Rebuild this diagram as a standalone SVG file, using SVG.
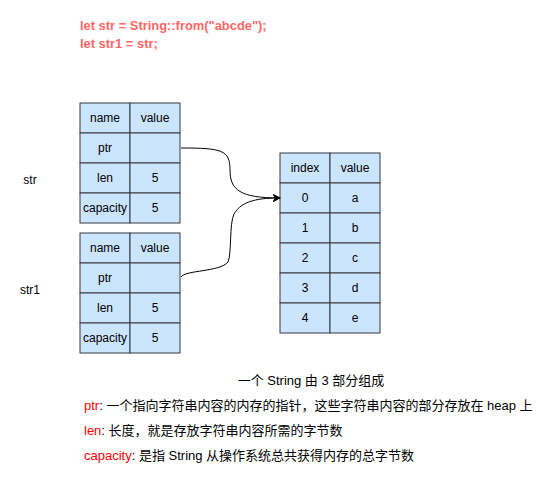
<svg xmlns="http://www.w3.org/2000/svg" width="551" height="498" viewBox="0 0 551 498">
<defs>
<style>
.c{fill:#cce5ff;stroke:#36393d;stroke-width:1}
.t{font-family:"Liberation Sans","Noto Sans CJK SC",sans-serif;font-size:12px;fill:#000;text-anchor:middle;dominant-baseline:central}
.code{font-family:"Liberation Sans",sans-serif;font-size:12.9px;font-weight:bold;fill:#ff6666}
.d{font-family:"Liberation Sans","Noto Sans CJK SC",sans-serif;font-size:13px;fill:#000}
.r{fill:#ff0000}
.e{fill:none;stroke:#000;stroke-width:1}
</style>
<marker id="ah" viewBox="0 0 10 10" refX="9" refY="5" markerWidth="8" markerHeight="8" markerUnits="userSpaceOnUse" orient="auto">
<path d="M0,0 L10,5 L0,10 L2.5,5 Z" fill="#000"/>
</marker>
</defs>
<rect width="551" height="498" fill="#fff"/>
<g id="code">
<text class="code" x="80" y="30">let str = String::from("abcde");</text>
<text class="code" x="80" y="48">let str1 = str;</text>
</g>
<g id="label-str"><text class="t" x="30" y="180">str</text></g>
<g id="label-str1"><text class="t" x="30" y="290">str1</text></g>
<g id="table-str">
<rect class="c" x="80" y="103" width="50" height="30"/><rect class="c" x="130" y="103" width="50" height="30"/>
<rect class="c" x="80" y="133" width="50" height="30"/><rect class="c" x="130" y="133" width="50" height="30"/>
<rect class="c" x="80" y="163" width="50" height="30"/><rect class="c" x="130" y="163" width="50" height="30"/>
<rect class="c" x="80" y="193" width="50" height="30"/><rect class="c" x="130" y="193" width="50" height="30"/>
<text class="t" x="105" y="118">name</text><text class="t" x="155" y="118">value</text>
<text class="t" x="105" y="148">ptr</text>
<text class="t" x="105" y="178">len</text><text class="t" x="155" y="178">5</text>
<text class="t" x="105" y="208">capacity</text><text class="t" x="155" y="208">5</text>
</g>
<g id="table-str1">
<rect class="c" x="80" y="233" width="50" height="30"/><rect class="c" x="130" y="233" width="50" height="30"/>
<rect class="c" x="80" y="263" width="50" height="30"/><rect class="c" x="130" y="263" width="50" height="30"/>
<rect class="c" x="80" y="293" width="50" height="30"/><rect class="c" x="130" y="293" width="50" height="30"/>
<rect class="c" x="80" y="323" width="50" height="30"/><rect class="c" x="130" y="323" width="50" height="30"/>
<text class="t" x="105" y="248">name</text><text class="t" x="155" y="248">value</text>
<text class="t" x="105" y="278">ptr</text>
<text class="t" x="105" y="308">len</text><text class="t" x="155" y="308">5</text>
<text class="t" x="105" y="338">capacity</text><text class="t" x="155" y="338">5</text>
</g>
<g id="table-heap">
<rect class="c" x="280" y="153" width="50" height="30"/><rect class="c" x="330" y="153" width="50" height="30"/>
<rect class="c" x="280" y="183" width="50" height="30"/><rect class="c" x="330" y="183" width="50" height="30"/>
<rect class="c" x="280" y="213" width="50" height="30"/><rect class="c" x="330" y="213" width="50" height="30"/>
<rect class="c" x="280" y="243" width="50" height="30"/><rect class="c" x="330" y="243" width="50" height="30"/>
<rect class="c" x="280" y="273" width="50" height="30"/><rect class="c" x="330" y="273" width="50" height="30"/>
<rect class="c" x="280" y="303" width="50" height="30"/><rect class="c" x="330" y="303" width="50" height="30"/>
<text class="t" x="305" y="168">index</text><text class="t" x="355" y="168">value</text>
<text class="t" x="305" y="198">0</text><text class="t" x="355" y="198">a</text>
<text class="t" x="305" y="228">1</text><text class="t" x="355" y="228">b</text>
<text class="t" x="305" y="258">2</text><text class="t" x="355" y="258">c</text>
<text class="t" x="305" y="288">3</text><text class="t" x="355" y="288">d</text>
<text class="t" x="305" y="318">4</text><text class="t" x="355" y="318">e</text>
</g>
<g id="connectors">
<path class="e" d="M181,148 C222,148 230,150 230,170 C230,190 240,198 280,198" marker-end="url(#ah)"/>
<path class="e" d="M181,277 C185,270 220,272 228,262 C232,252 229,225 234,214 C242,200 260,198 280,198" marker-end="url(#ah)"/>
</g>
<g id="notes">
<text class="d" x="311" y="385" text-anchor="middle">一个 String 由 3 部分组成</text>
<text class="d" x="84" y="410"><tspan class="r">ptr</tspan>: 一个指向字符串内容的内存的指针，这些字符串内容的部分存放在 heap 上</text>
<text class="d" x="84" y="435"><tspan class="r">len</tspan>: 长度，就是存放字符串内容所需的字节数</text>
<text class="d" x="84" y="460"><tspan class="r">capacity</tspan>: 是指 String 从操作系统总共获得内存的总字节数</text>
</g>
</svg>
